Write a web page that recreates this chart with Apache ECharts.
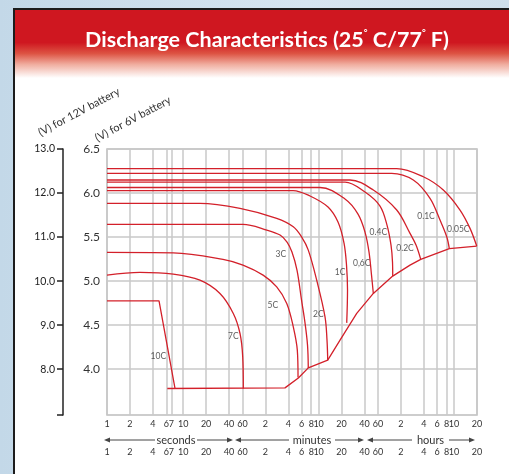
<!DOCTYPE html>
<html>
<head>
<meta charset="utf-8">
<script src="https://cdn.jsdelivr.net/npm/echarts@6/dist/echarts.min.js"></script>
<style>
    html, body { margin: 0; padding: 0; }
    body {
        width: 509px; height: 474px; overflow: hidden; position: relative;
        background: linear-gradient(90deg, #c3d8e8 0%, #d6e5f0 60%, #cfe0ec 100%);
    }
    #panel {
        position: absolute; left: 13px; top: 8px; right: -10px; bottom: -10px;
        background: #fff; border-left: 2px solid #1c1c1c; border-top: 2px solid #1c1c1c;
    }
    #header {
        position: absolute; left: 0; top: 0; right: 0; height: 68px;
        background: linear-gradient(180deg, #cf1720 0%, #cf1720 48%, #dd5343 64%, #f0ad9f 80%, #ffffff 100%);
    }
    #chart { position: absolute; left: 0; top: 0; width: 509px; height: 474px; }
</style>
</head>
<body>
<div id="panel"><div id="header"></div></div>
<div id="chart"></div>
<script>
// tick positions on the time axis (seconds) and their printed labels
const tickSeconds = [1, 2, 4, 6, 7, 10, 20, 40, 60, 120, 240, 360, 480, 600, 1200, 2400, 3600,
    7200, 14400, 21600, 28800, 36000, 72000];
const tickLabels = ['1', '2', '4', '6', '7', '10', '20', '40', '60', '2', '4', '6', '8', '10', '20', '40', '60',
    '2', '4', '6', '8', '10', '20'];
const volt6Ticks = [4.0, 4.5, 5.0, 5.5, 6.0, 6.5];
const volt12Ticks = [8, 9, 10, 11, 12, 13];

// discharge curves: [seconds, volts per 6V battery]
const c10 = [[1, 4.776], [4.82, 4.776], [7.81, 3.781]];
const c7 = [[1, 5.068], [2.71, 5.099], [7.42, 5.080], [16.6, 5.011], [30.4, 4.860], [45.5, 4.633],
    [55.7, 4.406], [60.5, 4.140], [61.6, 3.781]];
const c5 = [[1, 5.326], [7.4, 5.321], [33.3, 5.247], [61, 5.182], [112, 5.068], [169, 4.935],
    [229, 4.747], [279, 4.481], [315, 4.216], [322, 3.906]];
const c3 = [[1, 5.644], [61, 5.644], [125, 5.580], [187, 5.523], [231, 5.443], [268, 5.330],
    [312, 5.125], [358, 4.784], [398, 4.523], [429, 4.273], [439, 4.015]];
const c2 = [[1, 5.883], [16.6, 5.883], [55.7, 5.826], [169, 5.713], [279, 5.617], [360, 5.500],
    [439, 5.352], [566, 5.011], [728, 4.594], [773, 4.330], [790, 4.102]];
const c1 = [[1, 6.028], [277, 6.028], [463, 5.966], [797, 5.841], [1078, 5.670], [1293, 5.432],
    [1394, 5.182], [1437, 4.898], [1403, 4.526]];
const c06 = [[1, 6.063], [626, 6.063], [1332, 5.932], [1974, 5.761], [2439, 5.557], [2753, 5.330],
    [2969, 5.068], [3135, 4.860]];
const c04 = [[1, 6.125], [1332, 6.125], [2439, 6.011], [3838, 5.852], [4742, 5.636], [5352, 5.409],
    [5598, 5.216], [5634, 5.057]];
const c02 = [[1, 6.148], [1550, 6.148], [3135, 6.034], [6360, 5.807], [9506, 5.542], [11400, 5.409],
    [13140, 5.247]];
const c01 = [[1, 6.224], [5466, 6.224], [10503, 6.148], [17398, 5.940], [23537, 5.693], [28830, 5.503],
    [31180, 5.369]];
const c005 = [[1, 6.278], [6360, 6.278], [14215, 6.185], [26010, 6.034], [43100, 5.807], [58300, 5.599],
    [71400, 5.398]];
// end-of-discharge voltage line
const endLine = [[6.19, 3.781], [217, 3.788], [325, 3.901], [439, 4.015], [790, 4.102], [1146, 4.330],
    [1898, 4.633], [3135, 4.860], [5634, 5.057], [9506, 5.182], [13140, 5.247], [31180, 5.369], [71400, 5.398]];

const rateNames = ['10C', '7C', '5C', '3C', '2C', '1C', '0,6C', '0.4C', '0.2C', '0.1C', '0.05C'];
const rateLabelAt = [[4.72, 4.148], [45.5, 4.375], [150, 4.727], [192, 5.307], [594, 4.625], [1146, 5.097],
    [2207, 5.201], [3646, 5.549], [8174, 5.378], [15420, 5.731], [40930, 5.588]];

const curves = [c10, c7, c5, c3, c2, c1, c06, c04, c02, c01, c005];

const logTicks = tickSeconds.map(t => Math.log10(t));
const toXY = arr => arr.map(([t, v]) => [Math.log10(t), v]);
const timeLabel = v => {
    const i = logTicks.findIndex(l => Math.abs(l - v) < 1e-6);
    return i < 0 ? '' : tickLabels[i];
};

const FONT = 'Lato';
const gridColor = '#c8c8c8';
const red = '#d3202a';

const chart = echarts.init(document.getElementById('chart'), null, { renderer: 'canvas' });

const xLabel = {
    customValues: logTicks,
    formatter: timeLabel,
    fontSize: 9,
    fontFamily: FONT,
    color: '#333',
    margin: 5
};

const series = curves.map((c, i) => ({
    type: 'line',
    name: rateNames[i],
    data: toXY(c),
    showSymbol: false,
    symbol: 'none',
    smooth: i === 0 ? false : 0.35,
    lineStyle: { color: red, width: 1.3 },
    silent: true
}));
series.push({
    type: 'line',
    name: 'end',
    data: toXY(endLine),
    symbol: 'none',
    smooth: false,
    lineStyle: { color: red, width: 1.3 },
    silent: true
});
series.push({
    type: 'scatter',
    data: rateLabelAt.map((p, i) => ({ name: rateNames[i], value: [Math.log10(p[0]), p[1]] })),
    symbolSize: 0,
    label: {
        show: true, position: 'inside', formatter: '{b}',
        fontSize: 8.5, fontFamily: FONT, color: '#333'
    },
    silent: true
});

// arrows of the unit row under the time axis
const arrowY = 440;
const arrowRow = [
    { from: 104, to: 233, text: 'seconds', t0: 156, t1: 196 },
    { from: 235, to: 364, text: 'minutes', t0: 290, t1: 334 },
    { from: 367, to: 475, text: 'hours', t0: 413, t1: 448 }
];
const graphics = [];
arrowRow.forEach(a => {
    const stroke = { stroke: '#444', lineWidth: 1 };
    graphics.push({ type: 'line', shape: { x1: a.from + 4, y1: arrowY, x2: a.t0 - 1, y2: arrowY }, style: stroke });
    graphics.push({ type: 'line', shape: { x1: a.t1 + 1, y1: arrowY, x2: a.to - 4, y2: arrowY }, style: stroke });
    graphics.push({ type: 'polygon', shape: { points: [[a.from, arrowY], [a.from + 6, arrowY - 2.5], [a.from + 6, arrowY + 2.5]] }, style: { fill: '#444' } });
    graphics.push({ type: 'polygon', shape: { points: [[a.to, arrowY], [a.to - 6, arrowY - 2.5], [a.to - 6, arrowY + 2.5]] }, style: { fill: '#444' } });
    graphics.push({
        type: 'text', x: (a.t0 + a.t1) / 2, y: arrowY,
        style: { text: a.text, fontSize: 11, fontFamily: FONT, fill: '#333', align: 'center', verticalAlign: 'middle' }
    });
});
graphics.push({
    type: 'text', x: 79, y: 112, rotation: 28 * Math.PI / 180,
    style: { text: '(V) for 12V battery', fontSize: 11, fontFamily: FONT, fill: '#333', align: 'center', verticalAlign: 'middle' }
});
graphics.push({
    type: 'text', x: 133, y: 119, rotation: 28 * Math.PI / 180,
    style: { text: '(V) for 6V battery', fontSize: 11, fontFamily: FONT, fill: '#333', align: 'center', verticalAlign: 'middle' }
});

const option = {
    animation: false,
    title: {
        text: 'Discharge Characteristics (25{d|°} C/77{d|°} F)',
        left: 262,
        top: 24,
        textAlign: 'center',
        textStyle: {
            color: '#fff',
            fontFamily: FONT,
            fontSize: 21.5,
            fontWeight: 'bold',
            rich: {
                d: { fontSize: 9, color: '#fff', fontFamily: FONT, verticalAlign: 'top', padding: [0, 0, 10, 0] }
            }
        }
    },
    grid: {
        left: 107, top: 149, width: 370, height: 266,
        show: true, borderColor: '#bdbdbd', borderWidth: 1.5
    },
    xAxis: [
        {
            type: 'value', min: 0, max: Math.log10(72000),
            axisLine: { show: false },
            axisTick: { show: false, customValues: logTicks },
            splitLine: { show: true, lineStyle: { color: gridColor, width: 1.5 } },
            axisLabel: xLabel
        },
        {
            type: 'value', min: 0, max: Math.log10(72000), position: 'bottom', offset: 28,
            axisLine: { show: false },
            axisTick: { show: false, customValues: logTicks },
            splitLine: { show: false },
            axisLabel: xLabel
        }
    ],
    yAxis: [
        {
            type: 'value', min: 3.48, max: 6.5,
            axisLine: { show: false },
            axisTick: { show: false, customValues: volt6Ticks },
            splitLine: { show: true, lineStyle: { color: gridColor, width: 1.5 } },
            axisLabel: {
                customValues: volt6Ticks,
                formatter: v => v.toFixed(1),
                fontSize: 12, fontFamily: FONT, color: '#333', margin: 7
            }
        },
        {
            type: 'value', min: 6.96, max: 13, position: 'left', offset: 44,
            axisLine: { show: true, onZero: false, lineStyle: { color: '#222', width: 1.5 } },
            axisTick: { show: true, length: 6, lineStyle: { color: '#222', width: 1.5 }, customValues: [6.96, 8, 9, 10, 11, 12, 13] },
            splitLine: { show: false },
            axisLabel: {
                customValues: volt12Ticks,
                formatter: v => v.toFixed(1),
                fontSize: 10.5, fontFamily: FONT, color: '#222', margin: 8
            }
        }
    ],
    graphic: graphics,
    series: series
};

chart.setOption(option);
</script>
</body>
</html>
